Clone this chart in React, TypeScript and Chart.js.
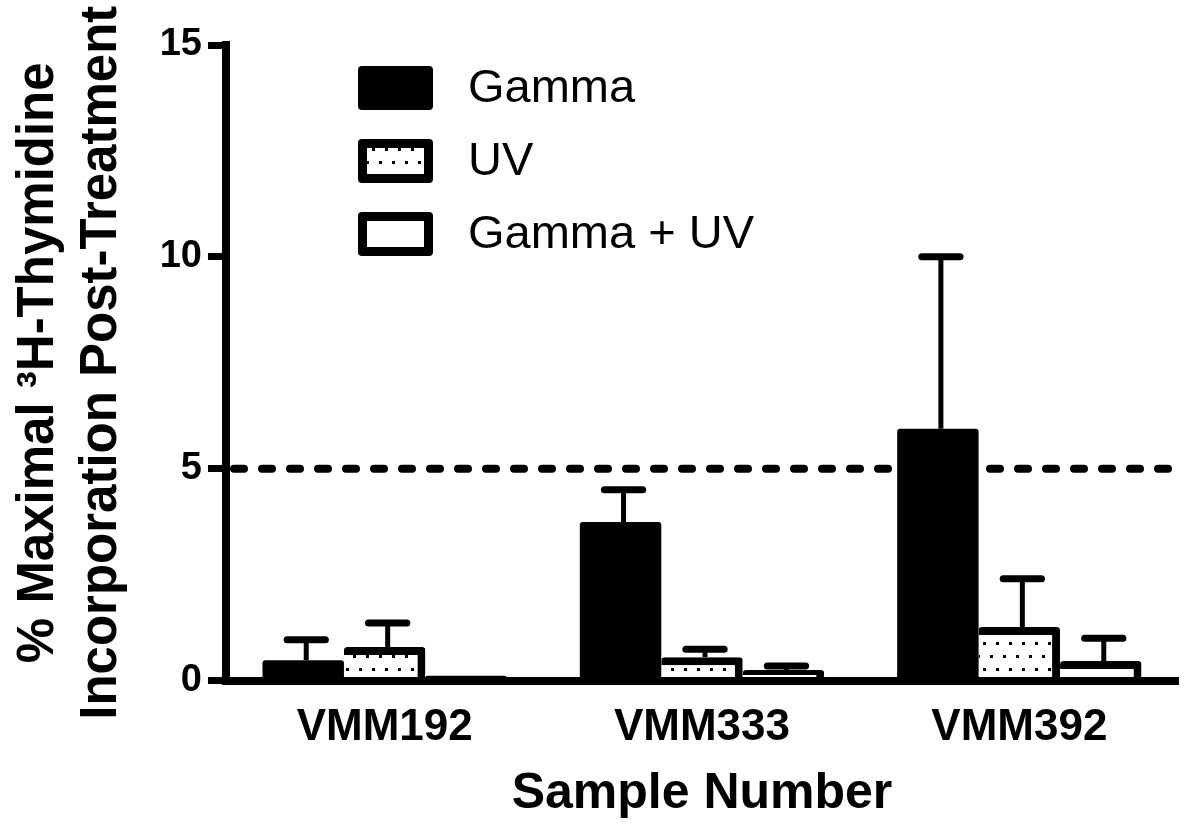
import React, { useEffect, useRef } from 'react';
import { Chart, registerables } from 'chart.js';

Chart.register(...registerables);

// ---------- data ----------
const categories = ['VMM192', 'VMM333', 'VMM392'];
const seriesNames = ['Gamma', 'UV', 'Gamma + UV'];
const gammaMean = [0.48, 3.74, 5.94];
const gammaErr = [0.48, 0.76, 4.06];
const uvMean = [0.79, 0.55, 1.26];
const uvErr = [0.57, 0.19, 1.14];
const comboMean = [0.12, 0.25, 0.46];
const comboErr = [0, 0.09, 0.54];
const yTicks = [0, 5, 10, 15];
const thresholdValue = 5;
const yTitleLines = ['% Maximal \u00B3H-Thymidine', 'Incorporation Post-Treatment'];
const xTitle = 'Sample Number';

const FAMILY = "'Liberation Sans', Arial, Helvetica, sans-serif";

function makeDotPattern(ctx: CanvasRenderingContext2D): CanvasPattern | string {
  const c = document.createElement('canvas');
  c.width = 13;
  c.height = 26;
  const g = c.getContext('2d');
  if (!g) return '#fff';
  g.fillStyle = '#fff';
  g.fillRect(0, 0, 13, 26);
  g.fillStyle = '#000';
  g.fillRect(2, 5, 3, 3);
  g.fillRect(8, 18, 3, 3);
  return ctx.createPattern(c, 'repeat') || '#fff';
}

function roundRect(ctx: CanvasRenderingContext2D, x: number, y: number, w: number, h: number, r: number) {
  ctx.beginPath();
  ctx.moveTo(x + r, y);
  ctx.lineTo(x + w - r, y);
  ctx.arcTo(x + w, y, x + w, y + r, r);
  ctx.lineTo(x + w, y + h - r);
  ctx.arcTo(x + w, y + h, x + w - r, y + h, r);
  ctx.lineTo(x + r, y + h);
  ctx.arcTo(x, y + h, x, y + h - r, r);
  ctx.lineTo(x, y + r);
  ctx.arcTo(x, y, x + r, y, r);
  ctx.closePath();
}

const thresholdPlugin = {
  id: 'threshold',
  beforeDatasetsDraw(chart: any) {
    const { ctx, chartArea } = chart;
    const y = chart.scales.y.getPixelForValue(thresholdValue);
    ctx.save();
    ctx.strokeStyle = '#000';
    ctx.lineWidth = 8;
    ctx.lineCap = 'round';
    ctx.setLineDash([10, 18]);
    ctx.beginPath();
    ctx.moveTo(chartArea.left + 8, y);
    ctx.lineTo(chartArea.right, y);
    ctx.stroke();
    ctx.restore();
  },
};

const errorBarsPlugin = {
  id: 'errorBars',
  afterDatasetsDraw(chart: any) {
    const ctx = chart.ctx;
    const yScale = chart.scales.y;
    chart.data.datasets.forEach((ds: any, di: number) => {
      const meta = chart.getDatasetMeta(di);
      meta.data.forEach((bar: any, i: number) => {
        const e = ds.errors[i];
        if (!e) return;
        const v = ds.data[i];
        const x = bar.x + 3;
        const yBase = yScale.getPixelForValue(v);
        const yTop = yScale.getPixelForValue(v + e);
        const half = bar.width * 0.235;
        ctx.save();
        ctx.strokeStyle = '#000';
        ctx.lineWidth = 5;
        ctx.beginPath();
        ctx.moveTo(x, yBase);
        ctx.lineTo(x, yTop);
        ctx.stroke();
        ctx.lineWidth = 7;
        ctx.lineCap = 'round';
        ctx.beginPath();
        ctx.moveTo(x - half, yTop);
        ctx.lineTo(x + half, yTop);
        ctx.stroke();
        ctx.restore();
      });
    });
  },
};

const legendPlugin = {
  id: 'customLegend',
  afterDraw(chart: any) {
    const { ctx, chartArea } = chart;
    const bx = chartArea.left + 132;
    const bw = 75;
    const bh = 44;
    const top0 = chartArea.top + 21;
    const step = 73;
    const lw = 9;
    chart.data.datasets.forEach((ds: any, i: number) => {
      const by = top0 + i * step;
      ctx.save();
      ctx.fillStyle = '#000';
      roundRect(ctx, bx, by, bw, bh, 4);
      ctx.fill();
      if (i > 0) {
        ctx.fillStyle = ds.backgroundColor;
        ctx.fillRect(bx + lw, by + lw, bw - 2 * lw, bh - 2 * lw);
      }
      ctx.fillStyle = '#000';
      ctx.font = `47px ${FAMILY}`;
      ctx.textBaseline = 'middle';
      ctx.textAlign = 'left';
      ctx.fillText(ds.label, bx + 110, by + bh / 2 + 1);
      ctx.restore();
    });
  },
};

export default function App() {
  const canvasRef = useRef<HTMLCanvasElement | null>(null);

  useEffect(() => {
    document.body.style.margin = '0';
    const canvas = canvasRef.current;
    if (!canvas) return;
    const ctx = canvas.getContext('2d') as CanvasRenderingContext2D;
    const dots = makeDotPattern(ctx);

    const barBorder = { top: 8, right: 8, bottom: 0, left: 0 };

    const chart = new Chart(ctx, {
      type: 'bar',
      data: {
        labels: categories,
        datasets: [
          {
            label: seriesNames[0],
            data: gammaMean,
            errors: gammaErr,
            backgroundColor: '#000',
            borderColor: '#000',
            borderWidth: 0,
            borderSkipped: false,
            borderRadius: 3,
          } as any,
          {
            label: seriesNames[1],
            data: uvMean,
            errors: uvErr,
            backgroundColor: dots,
            borderColor: '#000',
            borderWidth: barBorder,
            borderSkipped: false,
            borderRadius: 3,
          } as any,
          {
            label: seriesNames[2],
            data: comboMean,
            errors: comboErr,
            backgroundColor: '#fff',
            borderColor: '#000',
            borderWidth: barBorder,
            borderSkipped: false,
            borderRadius: 3,
          } as any,
        ],
      },
      options: {
        responsive: true,
        maintainAspectRatio: false,
        animation: false,
        events: [],
        layout: { padding: { top: 45, right: 22, bottom: 0, left: 0 } },
        datasets: {
          bar: { categoryPercentage: 0.77, barPercentage: 1.0 },
        },
        plugins: {
          legend: { display: false },
          tooltip: { enabled: false },
          title: { display: false },
        },
        scales: {
          x: {
            ticks: {
              color: '#000',
              font: { family: FAMILY, size: 44, weight: 'bold' },
              padding: 21,
              autoSkip: false,
              maxRotation: 0,
            },
            grid: { display: false, drawTicks: false },
            border: { display: true, color: '#000', width: 8, z: 1 },
            title: {
              display: true,
              text: xTitle,
              color: '#000',
              font: { family: FAMILY, size: 50, weight: 'bold' },
              padding: { top: 0, bottom: 6 },
            },
            afterFit: (s: any) => {
              s.height = 149.5;
            },
          },
          y: {
            min: 0,
            max: 15,
            afterBuildTicks: (s: any) => {
              s.ticks = yTicks.map((v) => ({ value: v }));
            },
            ticks: {
              color: '#000',
              font: { family: FAMILY, size: 38, weight: 'bold' },
              padding: 6,
            },
            grid: {
              display: true,
              drawOnChartArea: false,
              drawTicks: true,
              tickLength: 18,
              tickWidth: 7,
              tickColor: '#000',
            },
            border: { display: true, color: '#000', width: 8 },
            title: {
              display: true,
              text: yTitleLines,
              color: '#000',
              font: { family: FAMILY, size: 51, weight: 'bold', lineHeight: 1.235 },
              padding: { top: 7, bottom: 0 },
            },
            afterFit: (s: any) => {
              s.width = 226;
            },
          },
        },
      } as any,
      plugins: [thresholdPlugin, errorBarsPlugin, legendPlugin],
    });

    return () => {
      chart.destroy();
    };
  }, []);

  return (
    <div style={{ position: 'absolute', left: 0, top: 0, width: 1200, height: 830 }}>
      <canvas ref={canvasRef} />
    </div>
  );
}
